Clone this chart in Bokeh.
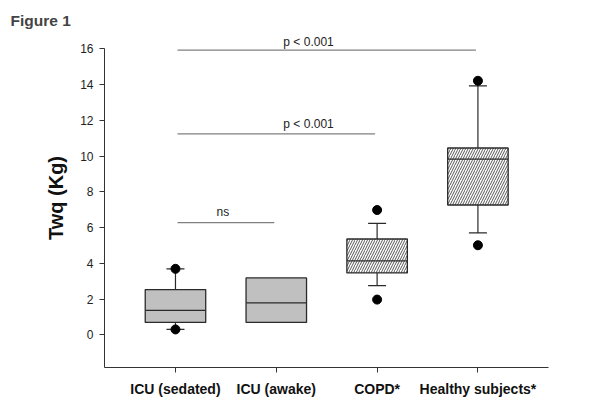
import numpy as np
from bokeh.plotting import figure
from bokeh.models import Range1d, FixedTicker
from bokeh.core.properties import value
from bokeh.embed import file_html
from bokeh.resources import INLINE

# ---- data ----
categories = ["ICU (sedated)", "ICU (awake)", "COPD*", "Healthy subjects*"]
q1 = [0.69, 0.69, 3.46, 7.26]
median = [1.37, 1.79, 4.13, 9.83]
q3 = [2.53, 3.18, 5.36, 10.45]
whisker_low = [0.30, None, 2.75, 5.70]
whisker_high = [3.69, None, 6.23, 13.93]
outlier_cat = [0, 0, 2, 2, 3, 3]
outlier_val = [0.30, 3.69, 1.97, 6.98, 5.01, 14.21]
hatched = [False, False, True, True]

sig_from = [0, 0, 0]
sig_to = [3, 2, 1]
sig_level = [15.93, 11.24, 6.27]
sig_text = ["p < 0.001", "p < 0.001", "ns"]
y_ticks = [0, 2, 4, 6, 8, 10, 12, 14, 16]

FONT = "Liberation Sans"
pos = np.arange(1, len(categories) + 1, dtype=float)

p = figure(width=600, height=414, output_backend="svg", toolbar_location=None,
           x_range=Range1d(0.296, 4.70), y_range=Range1d(-1.83, 17.136),
           min_border_left=104, min_border_right=52, min_border_top=28,
           min_border_bottom=47)
p.outline_line_color = None
p.xgrid.visible = False
p.ygrid.visible = False

p.title.text = "Figure 1"
p.title.text_font = FONT
p.title.text_font_size = "15.5px"
p.title.text_font_style = "bold"
p.title.align = "left"
p.title.offset = -94
p.title.standoff = 0

# boxes
plain = [i for i, h in enumerate(hatched) if not h]
hat = [i for i, h in enumerate(hatched) if h]
p.vbar(x=pos[plain], width=0.6, bottom=np.array(q1)[plain], top=np.array(q3)[plain],
       fill_color="#c0c0c0", line_color="#2a2a2a", line_width=1.3)
p.vbar(x=pos[hat], width=0.6, bottom=np.array(q1)[hat], top=np.array(q3)[hat],
       fill_color="white", line_color="#2a2a2a", line_width=1.3,
       hatch_pattern="/", hatch_color="#444444", hatch_scale=5, hatch_weight=0.9)
# medians
p.scatter(x=pos, y=median, marker="dash", size=60, line_color="#2a2a2a", line_width=1.2)

# whiskers
wi = [i for i in range(len(categories)) if whisker_low[i] is not None]
wx = pos[wi]
wl = np.array([whisker_low[i] for i in wi])
wh = np.array([whisker_high[i] for i in wi])
bq1 = np.array(q1)[wi]
bq3 = np.array(q3)[wi]
p.segment(x0=wx, y0=bq3, x1=wx, y1=wh, line_color="#2a2a2a", line_width=1.2)
p.segment(x0=wx, y0=bq1, x1=wx, y1=wl, line_color="#2a2a2a", line_width=1.2)
p.scatter(x=np.concatenate([wx, wx]), y=np.concatenate([wl, wh]), marker="dash",
          size=18, line_color="#2a2a2a", line_width=1.2)

# outliers
p.scatter(x=pos[outlier_cat], y=outlier_val, marker="circle", size=9,
          fill_color="black", line_color="black")

# significance bars
sx0 = pos[sig_from] + 0.02
sx1 = pos[sig_to] - 0.02
p.segment(x0=sx0, y0=sig_level, x1=sx1, y1=sig_level, line_color="#808080", line_width=1.2)
text_x = [2.32, 2.32, 1.47]
text_y = [16.37, 11.80, 6.86]
p.text(x=text_x, y=text_y, text=sig_text, text_font=value(FONT), text_font_size="12px",
       text_align="center", text_baseline="alphabetic", text_color="#222222")

# axes
p.xaxis.ticker = FixedTicker(ticks=list(pos))
p.xaxis.major_label_overrides = {float(x): c for x, c in zip(pos, categories)}
p.xaxis.major_label_text_font = FONT
p.xaxis.major_label_text_font_size = "14px"
p.xaxis.major_label_text_font_style = "bold"
p.xaxis.major_label_text_color = "#111111"
p.xaxis.major_label_standoff = 8
p.xaxis.minor_tick_line_color = None
p.xaxis.major_tick_in = 0
p.xaxis.major_tick_out = 5

p.yaxis.ticker = FixedTicker(ticks=y_ticks)
p.yaxis.bounds = (-1.83, 16)
p.yaxis.axis_label = "Twq (Kg)"
p.yaxis.axis_label_text_font = FONT
p.yaxis.axis_label_text_font_size = "20px"
p.yaxis.axis_label_text_font_style = "bold"
p.yaxis.axis_label_text_color = "#111111"
p.yaxis.axis_label_standoff = 10
p.yaxis.major_label_text_font = FONT
p.yaxis.major_label_text_font_size = "12px"
p.yaxis.major_label_text_color = "#222222"
p.yaxis.major_label_standoff = 6
p.yaxis.minor_tick_line_color = None
p.yaxis.major_tick_in = 0
p.yaxis.major_tick_out = 5

for ax in (p.xaxis, p.yaxis):
    ax.axis_line_color = "#333333"
    ax.major_tick_line_color = "#333333"

open("out.html", "w").write(file_html(p, INLINE))
